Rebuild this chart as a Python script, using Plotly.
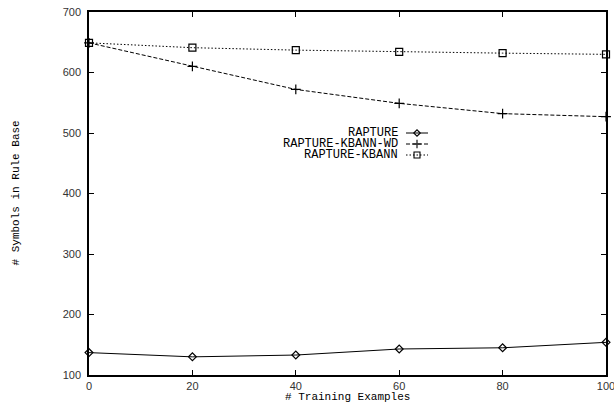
import plotly.graph_objects as go

x_examples = [0, 20, 40, 60, 80, 100]
rapture = [137, 130, 133, 143, 145, 154]
rapture_kbann_wd = [649, 610, 572, 549, 532, 527]
rapture_kbann = [649, 641, 637, 634, 632, 630]

series_names = ["RAPTURE", "RAPTURE-KBANN-WD", "RAPTURE-KBANN"]
series_values = [rapture, rapture_kbann_wd, rapture_kbann]
series_symbols = ["diamond-open", "cross-thin-open", "square-open"]
series_dash = ["solid", "4px,2px", "1.5px,2px"]
series_msize = [6, 7, 7]
legend_msize = [5, 6, 6]

x_ticks = [0, 20, 40, 60, 80, 100]
y_ticks = [100, 200, 300, 400, 500, 600, 700]

W, H = 614, 406
L, R, T, B = 89, 8, 12, 31
pw, ph = W - L - R, H - T - B

def px_x(p):
    return (p - L) / pw

def px_y(p):
    return (H - B - p) / ph

mono = "Liberation Mono, Courier New, monospace"
sans = "Liberation Sans, Arial, sans-serif"

fig = go.Figure()
for name, vals, sym, dash, ms in zip(series_names, series_values, series_symbols, series_dash, series_msize):
    fig.add_trace(go.Scatter(
        x=x_examples, y=vals, mode="lines+markers", name=name, showlegend=False,
        line=dict(color="black", width=1, dash=dash),
        marker=dict(symbol=sym, size=ms, color="black", line=dict(color="black", width=1.2)),
        cliponaxis=False,
    ))

# legend (text left of sample, like gnuplot)
row_y = [133, 144, 155]
text_right = 399
s0, s1 = 406, 428
for name, sym, dash, ms, ry in zip(series_names, series_symbols, series_dash, legend_msize, row_y):
    fig.add_annotation(x=px_x(text_right), y=px_y(ry), xref="paper", yref="paper",
                       text=name, showarrow=False, xanchor="right", yanchor="middle",
                       borderpad=0, font=dict(family=mono, size=12, color="black"))
    fig.add_trace(go.Scatter(
        x=[px_x(s0), px_x((s0 + s1) / 2), px_x(s1)], y=[px_y(ry)] * 3,
        xaxis="x2", yaxis="y2", mode="lines", showlegend=False, hoverinfo="skip",
        line=dict(color="black", width=1, dash=dash)))
    fig.add_trace(go.Scatter(
        x=[px_x((s0 + s1) / 2)], y=[px_y(ry)],
        xaxis="x2", yaxis="y2", mode="markers", showlegend=False, hoverinfo="skip",
        marker=dict(symbol=sym, size=ms, color="black", line=dict(color="black", width=1.1))))

fig.add_annotation(x=0.5, y=px_y(397), xref="paper", yref="paper", text="# Training Examples",
                   showarrow=False, xanchor="center", yanchor="middle", borderpad=0,
                   font=dict(family=mono, size=11, color="black"))
fig.add_annotation(x=px_x(15), y=0.5, xref="paper", yref="paper", text="# Symbols in Rule Base",
                   showarrow=False, textangle=-90, xanchor="center", yanchor="middle",
                   font=dict(family=mono, size=11, color="black"))

axis_common = dict(showgrid=False, zeroline=False, showline=True, linecolor="black", linewidth=1.5,
                   mirror="ticks", ticks="inside", ticklen=5, tickcolor="black", tickwidth=1,
                   ticklabeloverflow="allow",
                   tickfont=dict(family=sans, size=11, color="#333333"))

fig.update_layout(
    width=W, height=H, margin=dict(l=L, r=R, t=T, b=B, autoexpand=False),
    paper_bgcolor="white", plot_bgcolor="white",
    xaxis=dict(range=[0, 100], tickvals=x_ticks, ticktext=[str(v) for v in x_ticks],
               ticklabelstandoff=0, **axis_common),
    yaxis=dict(range=[100, 700], tickvals=y_ticks, ticktext=[str(v) for v in y_ticks],
               ticklabelstandoff=4, **axis_common),
    xaxis2=dict(range=[0, 1], overlaying="x", visible=False, domain=[0, 1]),
    yaxis2=dict(range=[0, 1], overlaying="y", visible=False, domain=[0, 1]),
)

fig.write_html("out.html", config={"displayModeBar": False},
               post_script="document.body.style.margin='0';document.body.style.overflow='hidden';")
